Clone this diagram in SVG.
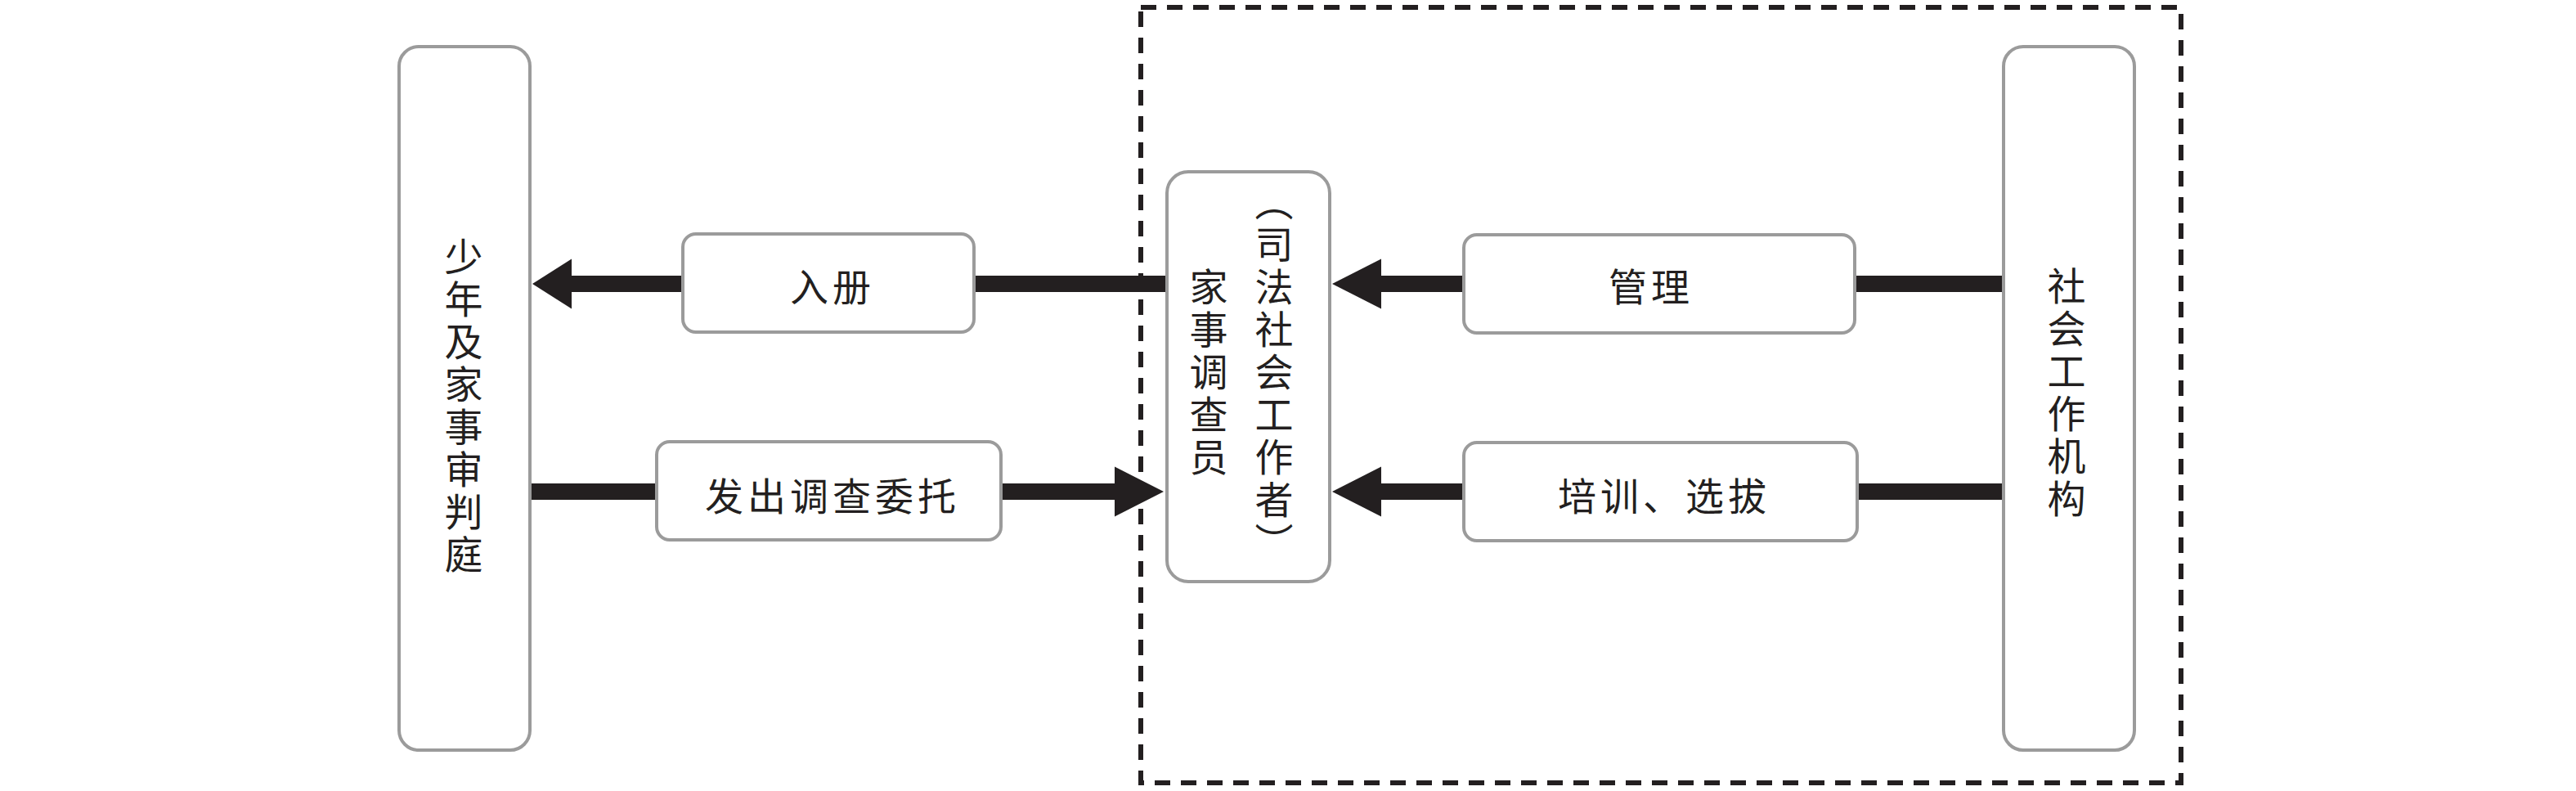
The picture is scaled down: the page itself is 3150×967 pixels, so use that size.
<svg xmlns="http://www.w3.org/2000/svg" width="3150" height="967" viewBox="0 0 3150 967">
  <style>
    .box { fill: #ffffff; stroke: #9b9b9b; stroke-width: 4; }
    .txt { font-family: "Noto Sans CJK SC", "Noto Sans", sans-serif; font-size: 47px; fill: #231f20; letter-spacing: 5px; }
    .h { text-anchor: middle; dominant-baseline: central; }
    .v { writing-mode: vertical-rl; text-anchor: middle; }
    .conn { stroke: #231f20; stroke-width: 20; fill: none; }
    .frame { fill: none; stroke: #231f20; stroke-width: 6; stroke-dasharray: 19 13; }
  </style>
  <defs>
    <marker id="arrowShort" markerUnits="userSpaceOnUse" markerWidth="48" markerHeight="61" refX="0" refY="30.5" orient="auto" overflow="visible">
      <polygon points="0,0 48,30.5 0,61" fill="#231f20"/>
    </marker>
    <marker id="arrowLong" markerUnits="userSpaceOnUse" markerWidth="60" markerHeight="61" refX="0" refY="30.5" orient="auto" overflow="visible">
      <polygon points="0,0 60,30.5 0,61" fill="#231f20"/>
    </marker>
  </defs>

  <rect class="frame" x="1395" y="9" width="1272" height="948"/>

  <g id="connectors">
    <line class="conn" x1="1425" y1="347" x2="699" y2="347" marker-end="url(#arrowShort)"/>
    <line class="conn" x1="650" y1="601" x2="1363" y2="601" marker-end="url(#arrowLong)"/>
    <line class="conn" x1="2448" y1="347" x2="1689" y2="347" marker-end="url(#arrowLong)"/>
    <line class="conn" x1="2448" y1="601" x2="1689" y2="601" marker-end="url(#arrowLong)"/>
  </g>

  <g id="court">
    <rect class="box" x="488" y="57" width="160" height="860" rx="24"/>
    <text class="txt v" x="567" y="498">少年及家事审判庭</text>
  </g>

  <g id="investigator">
    <rect class="box" x="1427" y="210" width="199" height="501" rx="26"/>
    <text class="txt v" x="1478" y="457">家事调查员</text>
    <text class="txt v" x="1558" y="457">（司法社会工作者）</text>
  </g>

  <g id="agency">
    <rect class="box" x="2450" y="57" width="160" height="860" rx="24"/>
    <text class="txt v" x="2527" y="482">社会工作机构</text>
  </g>

  <g id="label-register">
    <rect class="box" x="835" y="286" width="356" height="120" rx="16"/>
    <text class="txt h" x="1018" y="347">入册</text>
  </g>

  <g id="label-commission">
    <rect class="box" x="803" y="540" width="421" height="120" rx="16"/>
    <text class="txt h" x="1018" y="603">发出调查委托</text>
  </g>

  <g id="label-manage">
    <rect class="box" x="1790" y="287" width="478" height="120" rx="16"/>
    <text class="txt h" x="2019" y="347">管理</text>
  </g>

  <g id="label-train">
    <rect class="box" x="1790" y="541" width="481" height="120" rx="16"/>
    <text class="txt h" x="2035" y="603">培训、选拔</text>
  </g>
</svg>
